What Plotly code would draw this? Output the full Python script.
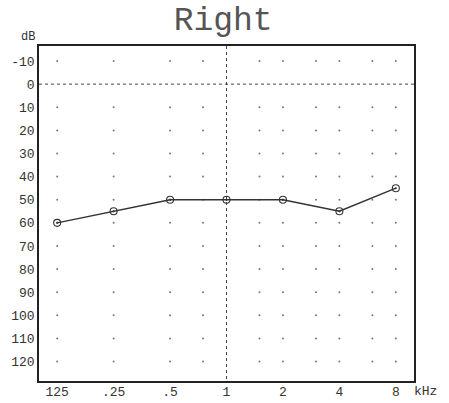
import plotly.graph_objects as go

freqs = [125, 250, 500, 1000, 2000, 4000, 8000]
thresholds = [60, 55, 50, 50, 50, 55, 45]

x_tick_vals = [125, 250, 500, 1000, 2000, 4000, 8000]
x_tick_text = ["125", ".25", ".5", "1", "2", "4", "8"]
y_tick_vals = [-10, 0, 10, 20, 30, 40, 50, 60, 70, 80, 90, 100, 110, 120]
y_tick_text = ["-10", "0", "10", "20", "30", "40", "50", "60", "70", "80", "90", "100", "110", "120"]

grid_freqs = [125, 250, 500, 750, 1500, 2000, 3000, 4000, 6000, 8000]
grid_levels = [-10, 10, 20, 30, 40, 50, 60, 70, 80, 90, 100, 110, 120]

y_range = [128.4, -16.5]
x_range_log = [2.0, 4.0]

font = "Liberation Mono"

fig = go.Figure()

gx, gy = [], []
for f in grid_freqs:
    for l in grid_levels:
        gx.append(f)
        gy.append(l)
fig.add_trace(go.Scatter(x=gx, y=gy, mode="markers",
                         marker=dict(size=2, color="#777"), hoverinfo="skip"))

# reference lines
fig.add_trace(go.Scatter(x=[1000, 1000], y=[y_range[1], y_range[0]], mode="lines",
                         line=dict(color="#444", width=1, dash="dot"), hoverinfo="skip"))
fig.add_trace(go.Scatter(x=[10 ** x_range_log[0], 10 ** x_range_log[1]], y=[0, 0], mode="lines",
                         line=dict(color="#444", width=1, dash="dot"), hoverinfo="skip"))

fig.add_trace(go.Scatter(x=freqs, y=thresholds, mode="lines+markers",
                         line=dict(color="#333", width=1.5),
                         marker=dict(symbol="circle-open-dot", size=7, color="#333",
                                     line=dict(width=1.1, color="#333"))))

fig.update_layout(
    width=449, height=403,
    margin=dict(l=39, r=35, t=46, b=22, autoexpand=False),
    paper_bgcolor="white", plot_bgcolor="white",
    showlegend=False,
    title=dict(text="Right", x=0.497, xanchor="center", y=0.953, yanchor="middle",
               font=dict(family=font, size=33, color="#555")),
    font=dict(family=font, size=12, color="#333"),
    annotations=[
        dict(text="dB", xref="paper", yref="paper", x=-0.005, y=1.0, xanchor="right",
             yanchor="bottom", showarrow=False, font=dict(family=font, size=12, color="#333")),
        dict(text="kHz", xref="paper", yref="paper", x=0.995, y=0, xanchor="left",
             yanchor="top", yshift=-1, showarrow=False, font=dict(family=font, size=13, color="#333")),
    ],
)
fig.update_xaxes(type="log", range=x_range_log, tickvals=x_tick_vals, ticktext=x_tick_text,
                 showgrid=False, zeroline=False, showline=True, linecolor="#222", linewidth=1.5,
                 mirror=True, ticks="", ticklabelstandoff=-2, automargin=False,
                 tickfont=dict(family=font, size=13, color="#333"))
fig.update_yaxes(range=y_range, tickvals=y_tick_vals, ticktext=y_tick_text,
                 showgrid=False, zeroline=False, showline=True, linecolor="#222", linewidth=1.5,
                 mirror=True, ticks="", automargin=False,
                 tickfont=dict(family=font, size=13, color="#333"))

fig.write_html("out.html")
